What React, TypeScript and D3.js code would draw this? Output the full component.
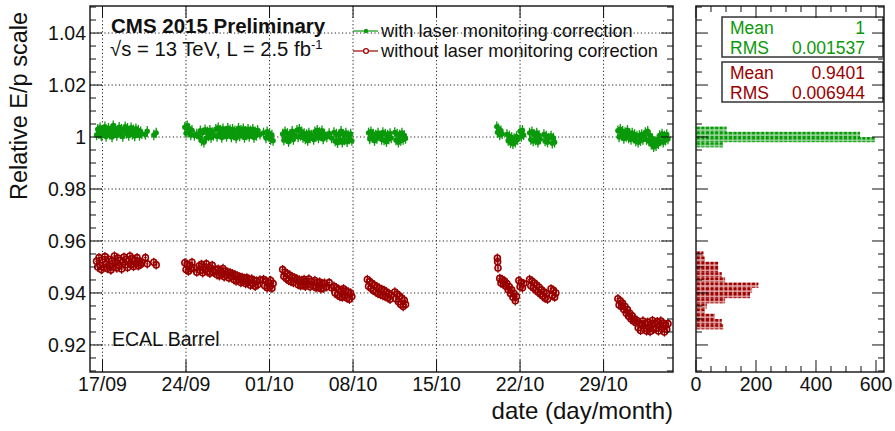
import React from "react";
import * as d3 from "d3";

// ---------- data ----------
// x = days after 17/09, y = relative E/p scale ("with laser monitoring correction")
const green1: [number, number][] = [
  [-0.5,1.0008],[-0.4,1.0030],[-0.3,1.0012],[-0.2,1.0036],[-0.1,1.0004],[0.0,1.0026],[0.1,1.0015],[0.2,1.0040],[0.3,1.0002],[0.4,1.0022],[0.5,1.0034],[0.6,1.0010],[0.7,1.0028],[0.8,1.0000],[0.9,1.0044],[1.0,1.0016],[1.1,1.0032],[1.2,1.0006],[1.3,1.0024],[1.4,1.0038],[1.5,1.0012],[1.6,1.0030],[1.7,1.0002],[1.8,1.0026],[1.9,1.0040],[2.0,1.0014],[2.1,1.0034],[2.2,1.0006],[2.3,1.0022],[2.4,1.0036],[2.5,1.0010],[2.6,1.0028],[2.7,1.0004],[2.8,1.0032],[2.9,1.0016],[3.0,1.0026],[3.1,1.0006],[3.2,1.0020],[3.3,1.0012],[3.6,1.0010],[3.75,1.0022],[4.3,1.0008],[4.5,1.0016],
];
const green2: [number, number][] = [
  [6.9,1.0038],[7.0,1.0014],[7.1,1.0044],[7.2,1.0020],[7.3,1.0032],[7.4,1.0008],[7.5,1.0026],[7.7,1.0006],[7.9,1.0012],[8.1,1.0000],[8.2,1.0024],[8.3,0.9986],[8.4,1.0016],[8.5,0.9980],[8.6,1.0028],[8.7,0.9996],[8.8,1.0020],[8.9,1.0004],[9.0,1.0026],[9.1,0.9998],[9.2,1.0018],[9.3,1.0006],[9.5,1.0030],[9.6,1.0002],[9.7,1.0036],[9.8,1.0012],[9.9,1.0026],[10.0,0.9998],[10.1,1.0032],[10.2,1.0010],[10.3,1.0022],[10.4,1.0002],[10.5,1.0034],[10.6,1.0014],[10.7,1.0028],[10.8,1.0000],[10.9,1.0030],[11.0,1.0008],[11.1,1.0024],[11.2,0.9996],[11.3,1.0020],[11.4,1.0034],[11.5,1.0004],[11.6,1.0026],[11.7,1.0010],[11.8,1.0032],[11.9,0.9998],[12.0,1.0022],[12.1,1.0008],[12.2,1.0030],[12.3,1.0002],[12.4,1.0024],[12.5,1.0012],[12.6,1.0030],[12.7,0.9998],[12.8,1.0020],[12.9,1.0006],[13.0,1.0026],[13.2,1.0010],[13.5,1.0016],[13.7,0.9996],[13.8,1.0020],[13.9,1.0004],[14.0,1.0014],[14.1,0.9990],[14.2,1.0008],[14.3,0.9986],
];
const green3: [number, number][] = [
  [15.1,1.0012],[15.2,0.9988],[15.3,1.0020],[15.4,0.9994],[15.5,1.0014],[15.6,0.9982],[15.7,1.0010],[15.8,0.9996],[15.9,1.0022],[16.0,0.9990],[16.1,1.0008],[16.3,1.0026],[16.4,1.0000],[16.5,1.0030],[16.6,1.0006],[16.7,1.0020],[16.8,0.9998],[16.9,1.0014],[17.0,0.9992],[17.1,1.0010],[17.2,0.9986],[17.3,1.0016],[17.4,0.9996],[17.5,1.0008],[17.7,0.9990],[17.8,1.0020],[17.9,1.0002],[18.0,1.0026],[18.1,0.9996],[18.2,1.0018],[18.3,1.0004],[18.4,1.0024],[18.5,0.9992],[18.6,1.0012],[18.8,1.0000],[19.0,1.0014],[19.2,0.9996],[19.4,1.0018],[19.5,0.9984],[19.6,1.0012],[19.7,0.9978],[19.8,1.0008],[19.9,0.9990],[20.0,1.0022],[20.1,0.9980],[20.2,1.0010],[20.3,0.9988],[20.4,1.0016],[20.5,0.9982],[20.6,1.0006],[20.7,0.9992],[20.8,1.0012],[20.9,0.9986],
];
const green4: [number, number][] = [
  [22.3,1.0016],[22.4,0.9992],[22.5,1.0020],[22.6,0.9998],[22.7,1.0012],[22.8,0.9986],[22.9,1.0008],[23.0,0.9994],[23.1,1.0016],[23.3,1.0004],[23.4,0.9990],[23.5,1.0018],[23.6,0.9988],[23.7,1.0012],[23.8,0.9982],[23.9,1.0008],[24.0,0.9992],[24.1,1.0014],[24.2,0.9996],[24.5,1.0018],[24.6,0.9988],[24.7,1.0012],[24.8,0.9980],[24.9,1.0008],[25.0,0.9986],[25.1,1.0016],[25.2,0.9990],[25.3,1.0006],[25.4,0.9994],
];
const green5: [number, number][] = [
  [33.05,1.0040],[33.1,1.0018],[33.2,1.0032],[33.3,1.0008],[33.4,1.0024],[33.5,1.0012],[33.9,1.0010],[34.0,0.9986],[34.1,1.0004],[34.2,0.9978],[34.3,0.9998],[34.4,0.9974],[34.5,0.9994],[34.6,0.9980],[34.7,1.0002],[34.8,0.9990],[35.0,1.0022],[35.1,1.0002],[35.2,1.0026],[35.3,1.0008],
];
const green6: [number, number][] = [
  [35.8,1.0016],[35.9,0.9990],[36.0,1.0020],[36.1,0.9984],[36.2,1.0010],[36.3,0.9988],[36.4,1.0016],[36.5,0.9980],[36.6,1.0006],[36.7,0.9992],[37.0,1.0010],[37.1,0.9984],[37.2,1.0004],[37.3,0.9980],[37.4,0.9996],[37.6,1.0004],[37.7,0.9976],[37.8,0.9996],[37.9,0.9980],
];
const green7: [number, number][] = [
  [43.2,1.0024],[43.3,1.0000],[43.4,1.0030],[43.5,1.0006],[43.6,1.0022],[43.7,0.9994],[43.8,1.0018],[43.9,1.0002],[44.0,1.0026],[44.1,0.9996],[44.2,1.0014],[44.3,0.9990],[44.4,1.0016],[44.5,0.9996],[44.6,1.0010],[44.7,0.9984],[44.8,1.0004],[44.9,0.9980],[45.0,1.0006],[45.1,0.9986],[45.2,1.0010],[45.3,0.9990],[45.4,1.0002],[45.5,1.0018],[45.6,0.9990],[45.7,1.0022],[45.8,0.9984],[45.9,1.0006],[46.0,0.9972],[46.1,0.9994],[46.2,0.9962],[46.3,0.9982],[46.4,0.9966],[46.5,0.9990],[46.6,0.9974],[46.7,1.0006],[46.8,0.9984],[46.9,1.0012],[47.0,0.9980],[47.1,1.0004],[47.2,0.9988],[47.3,1.0010],[47.4,0.9992],
];

// "without laser monitoring correction"
const red1: [number, number][] = [
  [-0.5,0.9522],[-0.4,0.9500],[-0.3,0.9536],[-0.2,0.9506],[-0.1,0.9490],[0.0,0.9528],[0.1,0.9498],[0.2,0.9540],[0.3,0.9512],[0.4,0.9494],[0.5,0.9530],[0.6,0.9504],[0.7,0.9488],[0.8,0.9524],[0.9,0.9500],[1.0,0.9542],[1.1,0.9516],[1.2,0.9496],[1.3,0.9534],[1.4,0.9506],[1.5,0.9526],[1.6,0.9492],[1.7,0.9520],[1.8,0.9538],[1.9,0.9508],[2.0,0.9530],[2.1,0.9498],[2.2,0.9524],[2.3,0.9542],[2.4,0.9510],[2.5,0.9532],[2.6,0.9502],[2.7,0.9526],[2.8,0.9512],[2.9,0.9536],[3.0,0.9504],[3.1,0.9522],[3.2,0.9510],[3.3,0.9518],[3.6,0.9536],[3.75,0.9512],[4.3,0.9518],[4.5,0.9508],
];
const red2: [number, number][] = [
  [6.9,0.9516],[7.0,0.9490],[7.1,0.9510],[7.2,0.9484],[7.3,0.9506],[7.4,0.9492],[7.5,0.9518],[7.7,0.9496],[7.9,0.9480],[8.1,0.9504],[8.2,0.9486],[8.3,0.9510],[8.4,0.9478],[8.5,0.9500],[8.6,0.9488],[8.7,0.9512],[8.8,0.9482],[8.9,0.9498],[9.0,0.9476],[9.1,0.9494],[9.2,0.9506],[9.3,0.9480],[9.5,0.9490],[9.6,0.9470],[9.7,0.9492],[9.8,0.9466],[9.9,0.9486],[10.0,0.9472],[10.1,0.9494],[10.2,0.9462],[10.3,0.9484],[10.4,0.9468],[10.5,0.9480],[10.6,0.9458],[10.7,0.9478],[10.8,0.9464],[10.9,0.9474],[11.0,0.9452],[11.1,0.9470],[11.2,0.9446],[11.3,0.9466],[11.4,0.9450],[11.5,0.9462],[11.6,0.9440],[11.7,0.9460],[11.8,0.9444],[11.9,0.9456],[12.0,0.9436],[12.1,0.9458],[12.2,0.9440],[12.3,0.9452],[12.4,0.9430],[12.5,0.9454],[12.6,0.9436],[12.7,0.9448],[12.8,0.9426],[12.9,0.9446],[13.0,0.9432],[13.2,0.9450],[13.5,0.9452],[13.6,0.9428],[13.7,0.9446],[13.8,0.9420],[13.9,0.9440],[14.0,0.9424],[14.1,0.9448],[14.2,0.9418],[14.3,0.9436],
];
const red3: [number, number][] = [
  [15.1,0.9490],[15.2,0.9464],[15.3,0.9480],[15.4,0.9456],[15.5,0.9474],[15.6,0.9448],[15.7,0.9468],[15.8,0.9444],[15.9,0.9462],[16.0,0.9440],[16.1,0.9458],[16.3,0.9454],[16.4,0.9432],[16.5,0.9450],[16.6,0.9428],[16.7,0.9448],[16.8,0.9430],[16.9,0.9452],[17.0,0.9426],[17.1,0.9446],[17.2,0.9434],[17.3,0.9454],[17.4,0.9424],[17.5,0.9444],[17.7,0.9428],[17.8,0.9448],[17.9,0.9420],[18.0,0.9440],[18.1,0.9422],[18.2,0.9442],[18.3,0.9416],[18.4,0.9436],[18.5,0.9418],[18.6,0.9438],[18.8,0.9424],[19.0,0.9440],[19.2,0.9420],[19.4,0.9426],[19.5,0.9400],[19.6,0.9420],[19.7,0.9392],[19.8,0.9414],[19.9,0.9386],[20.0,0.9410],[20.1,0.9384],[20.2,0.9416],[20.3,0.9390],[20.4,0.9408],[20.5,0.9380],[20.6,0.9404],[20.7,0.9376],[20.8,0.9400],[20.9,0.9386],
];
const red4: [number, number][] = [
  [22.2,0.9452],[22.3,0.9426],[22.4,0.9444],[22.5,0.9418],[22.6,0.9436],[22.7,0.9410],[22.8,0.9430],[22.9,0.9404],[23.0,0.9424],[23.1,0.9398],[23.2,0.9418],[23.3,0.9394],[23.4,0.9414],[23.5,0.9390],[23.6,0.9410],[23.7,0.9386],[23.8,0.9404],[23.9,0.9382],[24.0,0.9398],[24.1,0.9376],[24.2,0.9392],[24.5,0.9404],[24.6,0.9378],[24.7,0.9396],[24.8,0.9366],[24.9,0.9388],[25.0,0.9356],[25.1,0.9380],[25.2,0.9348],[25.3,0.9372],[25.4,0.9356],
];
const red5: [number, number][] = [
  [33.1,0.9534],[33.12,0.9520],[33.15,0.9496],[33.3,0.9456],[33.4,0.9438],[33.5,0.9452],[33.6,0.9434],[33.7,0.9446],[33.8,0.9426],[33.9,0.9436],[34.0,0.9412],[34.1,0.9424],[34.2,0.9398],[34.3,0.9412],[34.4,0.9384],[34.5,0.9398],[34.6,0.9370],[34.7,0.9386],[34.9,0.9448],[35.0,0.9424],[35.1,0.9440],[35.2,0.9420],[35.3,0.9436],
];
const red6: [number, number][] = [
  [35.8,0.9452],[35.9,0.9428],[36.0,0.9446],[36.1,0.9420],[36.2,0.9438],[36.3,0.9412],[36.4,0.9430],[36.5,0.9404],[36.6,0.9422],[36.7,0.9396],[36.8,0.9412],[36.9,0.9388],[37.0,0.9404],[37.1,0.9380],[37.2,0.9398],[37.3,0.9376],[37.6,0.9416],[37.7,0.9390],[37.8,0.9410],[37.9,0.9384],[38.0,0.9400],
];
const red7: [number, number][] = [
  [43.2,0.9378],[43.3,0.9354],[43.4,0.9370],[43.5,0.9348],[43.6,0.9360],[43.7,0.9336],[43.8,0.9348],[43.9,0.9322],[44.0,0.9336],[44.1,0.9310],[44.2,0.9322],[44.3,0.9300],[44.4,0.9312],[44.5,0.9292],[44.6,0.9300],[44.7,0.9286],[44.8,0.9294],[44.9,0.9266],[45.0,0.9284],[45.1,0.9256],[45.2,0.9278],[45.3,0.9292],[45.4,0.9262],[45.5,0.9282],[45.6,0.9254],[45.7,0.9288],[45.8,0.9266],[45.9,0.9252],[46.0,0.9280],[46.1,0.9294],[46.2,0.9260],[46.3,0.9284],[46.4,0.9264],[46.5,0.9290],[46.6,0.9254],[46.7,0.9278],[46.8,0.9292],[46.9,0.9262],[47.0,0.9284],[47.1,0.9250],[47.2,0.9276],[47.3,0.9260],[47.4,0.9282],
];

const withCorr = [...green1, ...green2, ...green3, ...green4, ...green5, ...green6, ...green7];
const withoutCorr = [...red1, ...red2, ...red3, ...red4, ...red5, ...red6, ...red7];

const greenError = 0.002;
const redError = 0.0018;
const xErrorDays = 0.12;

const xTickDays = [0, 7, 14, 21, 28, 35, 42];
const xTickLabels = ["17/09", "24/09", "01/10", "08/10", "15/10", "22/10", "29/10"];
const yTickValues = [0.92, 0.94, 0.96, 0.98, 1.0, 1.02, 1.04];
const yTickLabels = ["0.92", "0.94", "0.96", "0.98", "1", "1.02", "1.04"];
const histTickValues = [0, 200, 400, 600];

// histogram bins: [low edge, high edge, entries]
const histGreen: [number, number, number][] = [
  [0.996, 0.998, 90],
  [0.998, 1.0, 597],
  [1.0, 1.002, 547],
  [1.002, 1.004, 102],
];
const histRed: [number, number, number][] = [
  [0.926, 0.928, 91],
  [0.928, 0.93, 86],
  [0.93, 0.932, 63],
  [0.932, 0.934, 30],
  [0.934, 0.936, 36],
  [0.936, 0.938, 97],
  [0.938, 0.94, 180],
  [0.94, 0.942, 187],
  [0.942, 0.944, 208],
  [0.944, 0.946, 97],
  [0.946, 0.948, 86],
  [0.948, 0.95, 74],
  [0.95, 0.952, 74],
  [0.952, 0.954, 30],
  [0.954, 0.956, 25],
];

const statsGreen = [["Mean", "1"], ["RMS", "0.001537"]];
const statsRed = [["Mean", "0.9401"], ["RMS", "0.006944"]];

// ---------- styling ----------
const GREEN = "#0a990a";
const RED = "#990000";
const FONT = "'Liberation Sans', Arial, Helvetica, sans-serif";

const W = 895, H = 431;
const P = { l: 90, r: 673, t: 6, b: 372 };
const HP = { l: 696, r: 884 };

export default function App() {
  const x = d3.scaleLinear().domain([-1.048, 47.82]).range([P.l, P.r]);
  const y = d3.scaleLinear().domain([0.9096, 1.0504]).range([P.b, P.t]);
  const hx = d3.scaleLinear().domain([0, 626.7]).range([HP.l, HP.r]);
  const yMinor = y.ticks(28);
  const hMinor = d3.range(0, 627, 50);

  const grid = "#222";
  const dash = "1.2 2.4";

  const renderPoints = (pts: [number, number][], color: string, open: boolean, err: number) =>
    pts.map(([d, v], i) => {
      const cx = x(d), cy = y(v);
      return (
        <g key={i}>
          <line x1={cx} x2={cx} y1={y(v + err)} y2={y(v - err)} stroke={color} strokeWidth={1.3} />
          <line x1={x(d - xErrorDays)} x2={x(d + xErrorDays)} y1={cy} y2={cy} stroke={color} strokeWidth={1} />
          {open ? (
            <circle cx={cx} cy={cy} r={3} fill="none" stroke={color} strokeWidth={1.6} />
          ) : (
            <circle cx={cx} cy={cy} r={2.7} fill={color} />
          )}
        </g>
      );
    });

  const renderHist = (bins: [number, number, number][], pat: string) =>
    bins.map(([lo, hi, n], i) => (
      <rect key={i} x={hx(0)} y={y(hi)} width={hx(n) - hx(0)} height={y(lo) - y(hi)} fill={`url(#${pat})`} />
    ));

  const statBox = (rows: string[][], top: number, color: string) => (
    <g>
      <rect x={722} y={top} width={161} height={40} fill="white" stroke="#333" strokeWidth={1.5} />
      {rows.map(([k, v], i) => (
        <g key={k} fontFamily={FONT} fontSize={17.5} fill={color}>
          <text x={730} y={top + 16.5 + i * 20.5}>{k}</text>
          <text x={865} y={top + 16.5 + i * 20.5} textAnchor="end">{v}</text>
        </g>
      ))}
    </g>
  );

  return (
    <svg width={W} height={H} style={{ position: "absolute", left: 0, top: 0, background: "white" }}>
      <defs>
        <pattern id="pr" width={4.6} height={5.2} patternUnits="userSpaceOnUse" x={HP.l}>
          <rect width={4.6} height={5.2} fill="#e9b3b3" />
          <rect x={0.6} y={0.7} width={3.3} height={3.8} fill={RED} />
        </pattern>
        <pattern id="pg" width={4.6} height={5.2} patternUnits="userSpaceOnUse" x={HP.l}>
          <rect width={4.6} height={5.2} fill="#a8dca8" />
          <rect x={0.6} y={0.7} width={3.3} height={3.8} fill={GREEN} />
        </pattern>
        <clipPath id="mainclip">
          <rect x={P.l} y={P.t} width={P.r - P.l} height={P.b - P.t} />
        </clipPath>
      </defs>

      {/* ---------- main pad ---------- */}
      {xTickDays.map((d) => (
        <line key={"gx" + d} x1={x(d)} x2={x(d)} y1={P.t} y2={P.b} stroke={grid} strokeWidth={1} strokeDasharray={dash} />
      ))}
      {yTickValues.map((v) => (
        <line key={"gy" + v} x1={P.l} x2={P.r} y1={y(v)} y2={y(v)} stroke={grid} strokeWidth={1} strokeDasharray={dash} />
      ))}

      <text x={111} y={33} fontFamily={FONT} fontWeight="bold" fontSize={20.5} fill="#111">CMS 2015 Preliminary</text>
      <text x={110} y={56} fontFamily={FONT} fontSize={20.3} fill="#111">
        √s = 13 TeV, L = 2.5 fb<tspan dy={-7} fontSize={13}>-1</tspan>
      </text>
      <text x={112} y={346} fontFamily={FONT} fontSize={19.5} fill="#111">ECAL Barrel</text>

      {/* legend */}
      <line x1={353} x2={378} y1={31} y2={31} stroke={GREEN} strokeWidth={1.2} />
      <circle cx={366} cy={31} r={2.2} fill={GREEN} />
      <text x={381} y={37} fontFamily={FONT} fontSize={18.2} fill="#111">with laser monitoring correction</text>
      <line x1={353} x2={378} y1={51} y2={51} stroke={RED} strokeWidth={1.2} />
      <circle cx={366} cy={51} r={2.4} fill="white" stroke={RED} strokeWidth={1.2} />
      <text x={381} y={57} fontFamily={FONT} fontSize={18.2} fill="#111">without laser monitoring correction</text>

      <g clipPath="url(#mainclip)">
        {renderPoints(withCorr, GREEN, false, greenError)}
        {renderPoints(withoutCorr, RED, true, redError)}
      </g>

      <rect x={P.l} y={P.t} width={P.r - P.l} height={P.b - P.t} fill="none" stroke="#111" strokeWidth={1.4} />
      {xTickDays.map((d, i) => (
        <g key={"xt" + d}>
          <line x1={x(d)} x2={x(d)} y1={P.b} y2={P.b - 12} stroke="#111" />
          <line x1={x(d)} x2={x(d)} y1={P.t} y2={P.t + 12} stroke="#111" />
          <text x={x(d)} y={391} textAnchor="middle" fontFamily={FONT} fontSize={19.5} fill="#111">{xTickLabels[i]}</text>
        </g>
      ))}
      {yMinor.map((v) => {
        const major = yTickValues.some((t) => Math.abs(t - v) < 1e-6);
        const len = major ? 12 : 6;
        return (
          <g key={"ym" + v}>
            <line x1={P.l} x2={P.l + len} y1={y(v)} y2={y(v)} stroke="#111" />
            <line x1={P.r} x2={P.r - len} y1={y(v)} y2={y(v)} stroke="#111" />
          </g>
        );
      })}
      {yTickValues.map((v, i) => (
        <text key={"yl" + v} x={86} y={y(v) + 7} textAnchor="end" fontFamily={FONT} fontSize={19.5} fill="#111">{yTickLabels[i]}</text>
      ))}
      <text x={673} y={419} textAnchor="end" fontFamily={FONT} fontSize={24} fill="#111">date (day/month)</text>
      <text transform="translate(27,12) rotate(-90)" textAnchor="end" fontFamily={FONT} fontSize={23.5} fill="#111">Relative E/p scale</text>

      {/* ---------- histogram pad ---------- */}
      {renderHist(histGreen, "pg")}
      {renderHist(histRed, "pr")}
      {statBox(statsGreen, 17, GREEN)}
      {statBox(statsRed, 62, RED)}
      <rect x={HP.l} y={P.t} width={HP.r - HP.l} height={P.b - P.t} fill="none" stroke="#111" strokeWidth={1.4} />
      {hMinor.map((v) => {
        const major = histTickValues.includes(v);
        const len = major ? 12 : 6;
        return (
          <g key={"hm" + v}>
            <line x1={hx(v)} x2={hx(v)} y1={P.b} y2={P.b - len} stroke="#111" />
            <line x1={hx(v)} x2={hx(v)} y1={P.t} y2={P.t + len} stroke="#111" />
          </g>
        );
      })}
      {histTickValues.map((v) => (
        <text key={"hl" + v} x={hx(v)} y={391} textAnchor="middle" fontFamily={FONT} fontSize={19.5} fill="#111">{v}</text>
      ))}
      {yMinor.map((v) => {
        const major = yTickValues.some((t) => Math.abs(t - v) < 1e-6);
        const len = major ? 12 : 6;
        return (
          <g key={"hy" + v}>
            <line x1={HP.l} x2={HP.l + len} y1={y(v)} y2={y(v)} stroke="#111" />
            <line x1={HP.r} x2={HP.r - len} y1={y(v)} y2={y(v)} stroke="#111" />
          </g>
        );
      })}
    </svg>
  );
}
